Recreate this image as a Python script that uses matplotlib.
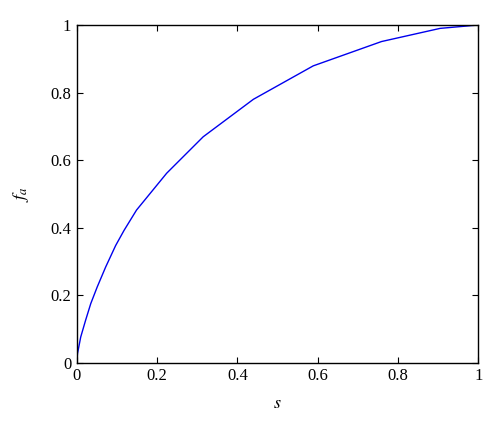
import matplotlib
matplotlib.use('Agg')
import matplotlib.pyplot as plt

# curve
s_vals = [0, 0.002, 0.010, 0.022, 0.035, 0.051, 0.072, 0.097, 0.118, 0.149,
          0.224, 0.315, 0.44, 0.589, 0.759, 0.905, 1.0]
fa_vals = [0, 0.027, 0.076, 0.125, 0.175, 0.224, 0.283, 0.347, 0.392, 0.452,
           0.561, 0.669, 0.78, 0.879, 0.951, 0.99, 1.0]
ticks = [0, 0.2, 0.4, 0.6, 0.8, 1]
tick_labels = ['0', '0.2', '0.4', '0.6', '0.8', '1']

plt.rcParams['font.family'] = ['Liberation Serif', 'DejaVu Serif']
plt.rcParams['mathtext.fontset'] = 'stix'

fig = plt.figure(figsize=(5, 4.28), dpi=100)
ax = fig.add_axes([0.1534, 0.1526, 0.8032, 0.789])
ax.plot(s_vals, fa_vals, color='#0000ee', linewidth=1.0)

ax.set_xlim(0, 1)
ax.set_ylim(0, 1)
ax.set_xticks(ticks)
ax.set_xticklabels(tick_labels)
ax.set_yticks(ticks)
ax.set_yticklabels(tick_labels)
ax.tick_params(direction='in', top=True, right=True, length=4, width=0.8,
               labelsize=12, pad=4)
for sp in ax.spines.values():
    sp.set_linewidth(1.0)

ax.set_xlabel('$s$', fontsize=13, labelpad=8)
ax.set_ylabel('$f_a$', fontsize=13, labelpad=14)

fig.savefig('out.png', dpi=100)
